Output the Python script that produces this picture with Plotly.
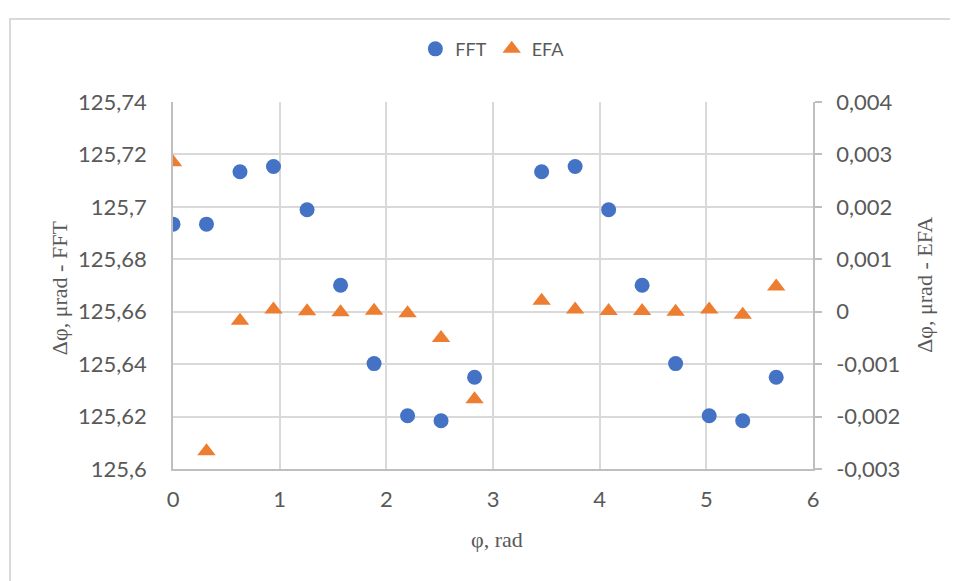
import plotly.graph_objects as go

# Data
phi = [0, 0.314, 0.628, 0.942, 1.257, 1.571, 1.885, 2.199, 2.513, 2.827,
       3.456, 3.770, 4.084, 4.398, 4.712, 5.027, 5.341, 5.655]
fft = [125.6934, 125.6934, 125.7134, 125.7154, 125.6989, 125.6701, 125.6402, 125.6203, 125.6184, 125.6350,
       125.7134, 125.7154, 125.6989, 125.6701, 125.6402, 125.6203, 125.6184, 125.6350]
efa = [0.00285, -0.00266, -0.00017, 0.00004, 0.00001, -0.00001, 0.00002, -0.00003, -0.00050, -0.00167,
       0.00021, 0.00004, 0.000015, 0.000015, 0.0, 0.00004, -0.00006, 0.00048]

left_vals = [125.6, 125.62, 125.64, 125.66, 125.68, 125.70, 125.72, 125.74]
left_text = ["125,6", "125,62", "125,64", "125,66", "125,68", "125,7", "125,72", "125,74"]
right_vals = [-0.003, -0.002, -0.001, 0, 0.001, 0.002, 0.003, 0.004]
right_text = ["-0,003", "-0,002", "-0,001", "0", "0,001", "0,002", "0,003", "0,004"]
x_vals = [0, 1, 2, 3, 4, 5, 6]
x_text = ["0", "1", "2", "3", "4", "5", "6"]

GRID = "#d9d9d9"
AXL = "#bfbfbf"
TXT = "#595959"
TICKFONT = dict(family="Lato", size=22, color=TXT)
TITLEFONT = dict(family="Liberation Serif", size=22, color=TXT)

fig = go.Figure()
fig.add_trace(go.Scatter(x=phi, y=fft, mode="markers", name="FFT",
                         marker=dict(symbol="circle", size=15, color="#4472C4"),
                         yaxis="y"))
fig.add_trace(go.Scatter(x=phi, y=efa, mode="markers", name="EFA",
                         marker=dict(symbol="triangle-up", size=16, color="#ED7D31"),
                         yaxis="y2"))

fig.update_layout(
    width=950, height=573,
    margin=dict(l=165, r=145, t=94, b=112),
    paper_bgcolor="white", plot_bgcolor="white",
    showlegend=True,
    legend=dict(orientation="h", x=0.499, xanchor="center", y=1.144, yanchor="middle",
                font=dict(family="Lato", size=18, color=TXT), itemwidth=30,
                tracegroupgap=0, bgcolor="rgba(0,0,0,0)"),
    xaxis=dict(range=[0, 6], tickvals=x_vals, ticktext=x_text, showgrid=True,
               gridcolor=GRID, gridwidth=1.5, showline=True, linecolor=AXL, linewidth=1.5,
               ticks="", zeroline=False, tickfont=TICKFONT, ticklabelstandoff=10),
    yaxis=dict(range=[125.6, 125.74], tickvals=left_vals, ticktext=left_text, showgrid=True,
               gridcolor=GRID, gridwidth=1.5, showline=True, linecolor=AXL, linewidth=1.5,
               ticks="", zeroline=False, tickfont=TICKFONT, ticklabelstandoff=20),
    yaxis2=dict(range=[-0.003, 0.004], tickvals=right_vals, ticktext=right_text,
                overlaying="y", side="right", showgrid=False, showline=True,
                linecolor=AXL, linewidth=1.5, ticks="outside", ticklen=7, tickcolor=AXL,
                tickwidth=1.5, zeroline=False, tickfont=TICKFONT, ticklabelstandoff=10),
    annotations=[
        dict(text="Δφ, μrad - FFT", xref="paper", yref="paper", x=-0.178, y=0.493,
             textangle=-90, showarrow=False, font=TITLEFONT, xanchor="center", yanchor="middle"),
        dict(text="Δφ, μrad - EFA", xref="paper", yref="paper", x=1.173, y=0.501,
             textangle=-90, showarrow=False, font=TITLEFONT, xanchor="center", yanchor="middle"),
        dict(text="φ, rad", xref="paper", yref="paper", x=0.506, y=-0.193,
             showarrow=False, font=TITLEFONT, xanchor="center", yanchor="middle"),
    ],
    shapes=[
        dict(type="rect", xref="paper", yref="paper",
             x0=(10 - 173) / 640, x1=(975 - 173) / 640,
             y0=(469 - 600) / 367, y1=(469 - 19) / 367,
             line=dict(color=GRID, width=2), fillcolor="rgba(0,0,0,0)", layer="below"),
    ],
)

fig.write_html("out.html")
